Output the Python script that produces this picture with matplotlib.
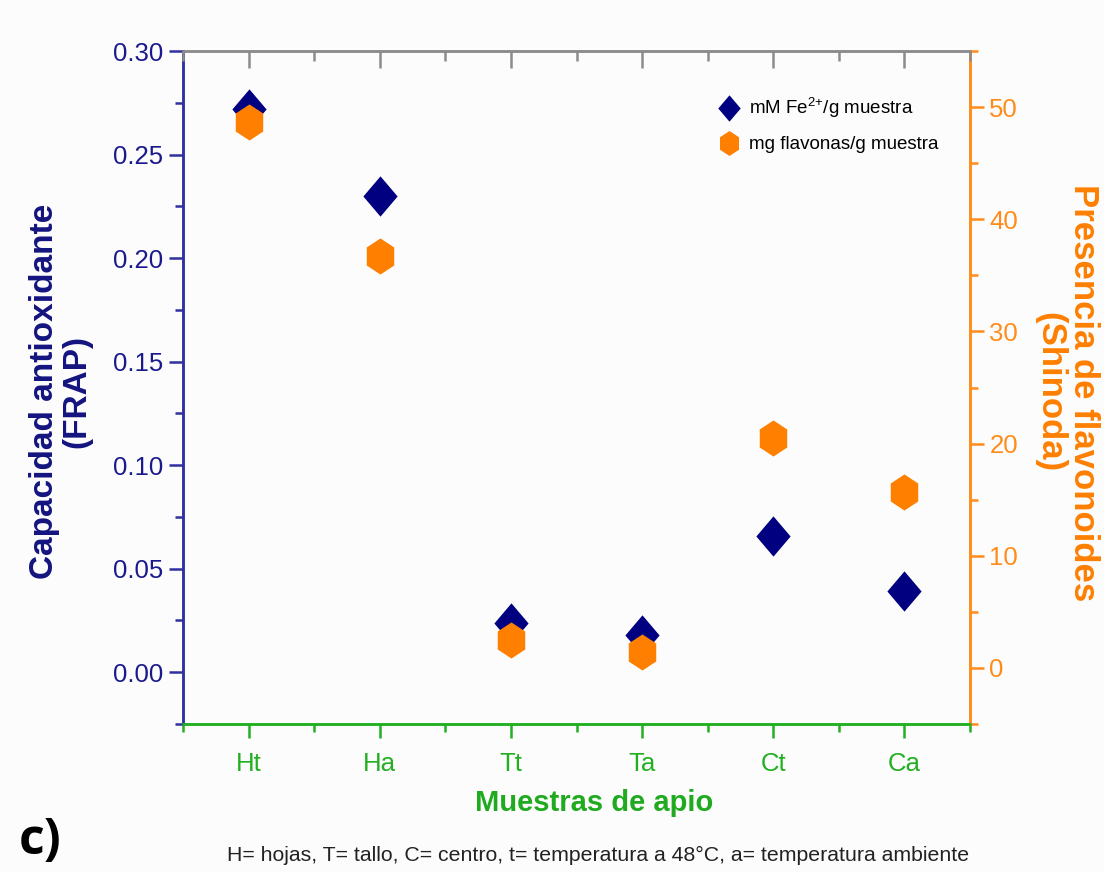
import matplotlib
matplotlib.use('Agg')
import matplotlib.pyplot as plt
from matplotlib.lines import Line2D
from matplotlib.ticker import MultipleLocator, FormatStrFormatter

plt.rcParams['font.family'] = ['Liberation Sans', 'DejaVu Sans']
plt.rcParams['mathtext.fontset'] = 'custom'
plt.rcParams['mathtext.rm'] = 'Liberation Sans'
plt.rcParams['mathtext.default'] = 'regular'

# samples and measured values
muestras = ['Ht', 'Ha', 'Tt', 'Ta', 'Ct', 'Ca']
frap = [0.272, 0.230, 0.024, 0.018, 0.066, 0.039]       # mM Fe2+/g muestra
shinoda = [48.7, 36.7, 2.5, 1.4, 20.5, 15.7]            # mg flavonas/g muestra

navy = '#000080'
orange = '#ff7f00'
green = '#22b022'
axis_blue = '#3030a0'
gray = '#8c8c8c'

# slightly tall markers like the original
diamond = [(0, 1), (0.85, 0), (0, -1), (-0.85, 0), (0, 1)]
hexagon = [(0, 1), (0.76, 0.5), (0.76, -0.5), (0, -1), (-0.76, -0.5), (-0.76, 0.5), (0, 1)]

pos = [0.1658, 0.1697, 0.7128, 0.7718]
fig = plt.figure(figsize=(11.04, 8.72), dpi=100)
fig.patch.set_facecolor('#fcfcfc')
ax = fig.add_axes(pos)
ax.set_facecolor('#fcfcfc')
ax2 = ax.twinx()

x = list(range(len(muestras)))
ax.plot(x, frap, linestyle='none', marker=diamond, markersize=29, color=navy,
        markeredgewidth=0)
ax2.plot(x, shinoda, linestyle='none', marker=hexagon, markersize=26, color=orange,
         markeredgewidth=0)

ax.set_xlim(-0.5, 5.5)
ax.set_ylim(-0.025, 0.30)
ax2.set_ylim(-5, 55)

ax.set_xticks(x)
ax.set_xticklabels(muestras)
ax.xaxis.set_minor_locator(MultipleLocator(0.5))
ax.yaxis.set_major_locator(MultipleLocator(0.05))
ax.yaxis.set_minor_locator(MultipleLocator(0.025))
ax.yaxis.set_major_formatter(FormatStrFormatter('%.2f'))
ax2.yaxis.set_major_locator(MultipleLocator(10))
ax2.yaxis.set_minor_locator(MultipleLocator(5))

# spines
for a in (ax, ax2):
    a.spines['left'].set_color(axis_blue)
    a.spines['bottom'].set_color(green)
    a.spines['right'].set_color('#ff8c1a')
    a.spines['top'].set_color(gray)
    for s in a.spines.values():
        s.set_linewidth(1.8)

ax.tick_params(axis='y', which='major', direction='out', length=10, width=1.8,
               color=axis_blue, labelcolor='#1a1a8c', labelsize=18.5, pad=4)
ax.tick_params(axis='y', which='minor', direction='out', length=6, width=1.8, color=axis_blue)
ax.tick_params(axis='x', which='major', direction='out', length=10, width=1.8,
               color=green, labelcolor=green, labelsize=18.5, pad=10)
ax.tick_params(axis='x', which='minor', direction='out', length=6, width=1.8, color=green)

ax2.tick_params(axis='y', which='major', direction='out', length=10, width=1.8,
                color='#ff8c1a', labelcolor='#ff8c1a', labelsize=18.5, pad=4)
ax2.tick_params(axis='y', which='minor', direction='out', length=6, width=1.8, color='#ff8c1a')

# top ticks: gray and pointing inward, on a transparent overlay axes
ax3 = fig.add_axes(pos, frameon=False)
ax3.patch.set_visible(False)
ax3.set_xlim(ax.get_xlim())
ax3.set_xticks(x)
ax3.xaxis.set_minor_locator(MultipleLocator(0.5))
ax3.set_yticks([])
ax3.tick_params(axis='x', which='both', bottom=False, labelbottom=False,
                top=True, labeltop=False, direction='in', width=1.8, color=gray)
ax3.tick_params(axis='x', which='major', length=12)
ax3.tick_params(axis='x', which='minor', length=7)

# axis labels
fig.text(0.055, 0.551, 'Capacidad antioxidante\n(FRAP)', rotation=90, ha='center', va='center',
         fontsize=24, fontweight='bold', color='#141480', linespacing=1.05)
fig.text(0.966, 0.55, 'Presencia de flavonoides\n(Shinoda)', rotation=270, ha='center', va='center',
         fontsize=25, fontweight='bold', color=orange, linespacing=1.05)
fig.text(0.538, 0.079, 'Muestras de apio', ha='center', va='center',
         fontsize=21, fontweight='bold', color='#1faa1f')

# legend
h1 = Line2D([], [], linestyle='none', marker=diamond, markersize=19, color=navy, markeredgewidth=0)
h2 = Line2D([], [], linestyle='none', marker=hexagon, markersize=18, color=orange, markeredgewidth=0)
ax3.legend([h1, h2], [r'mM Fe$^{2{+}}$/g muestra', 'mg flavonas/g muestra'],
           loc='upper left', bbox_to_anchor=(0.66, 0.958), frameon=False,
           fontsize=13.5, handlelength=1.0, handletextpad=0.6, labelspacing=0.85)

# caption and panel letter
fig.text(0.542, 0.019, 'H= hojas, T= tallo, C= centro, t= temperatura a 48°C, a= temperatura ambiente',
         ha='center', va='center', fontsize=15.3, color='#222222')
fig.text(0.017, 0.035, 'c)', ha='left', va='center', fontsize=36, fontweight='bold',
         family=['Open Sans', 'DejaVu Sans'], color='black')

fig.savefig('out.png', dpi=100, facecolor=fig.get_facecolor())
